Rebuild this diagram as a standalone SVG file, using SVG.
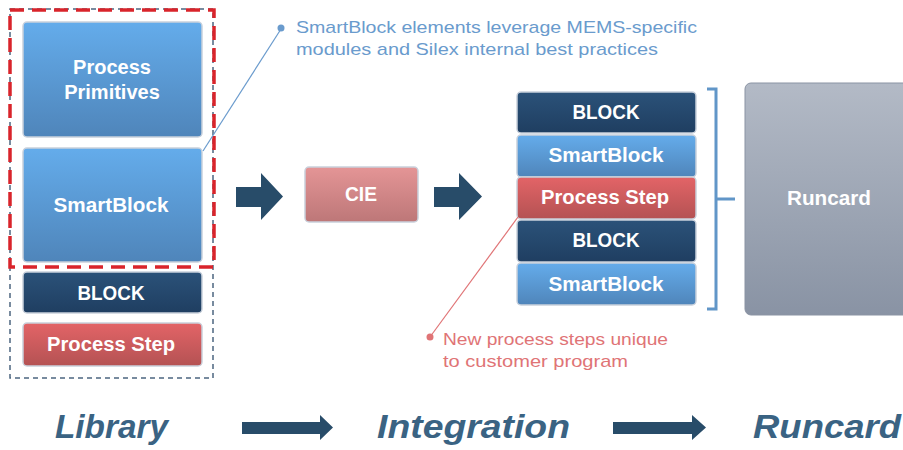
<svg xmlns="http://www.w3.org/2000/svg" width="903" height="450" viewBox="0 0 903 450">
<defs>
<linearGradient id="gLight" x1="0" y1="0" x2="0" y2="1"><stop offset="0" stop-color="#64aceb"/><stop offset="1" stop-color="#4f85ba"/></linearGradient>
<linearGradient id="gDark" x1="0" y1="0" x2="0" y2="1"><stop offset="0" stop-color="#2b5279"/><stop offset="1" stop-color="#1f3e61"/></linearGradient>
<linearGradient id="gRed" x1="0" y1="0" x2="0" y2="1"><stop offset="0" stop-color="#e36467"/><stop offset="1" stop-color="#b45253"/></linearGradient>
<linearGradient id="gPink" x1="0" y1="0" x2="0" y2="1"><stop offset="0" stop-color="#e49596"/><stop offset="1" stop-color="#bd7778"/></linearGradient>
<linearGradient id="gGray" x1="0" y1="0" x2="0" y2="1"><stop offset="0" stop-color="#b3bac6"/><stop offset="1" stop-color="#8993a4"/></linearGradient>
</defs>
<style>
.box{stroke:#c9d1dc;stroke-width:1.5}
.lbl{font-family:"Liberation Sans","DejaVu Sans",sans-serif;font-weight:bold;fill:#ffffff;text-anchor:middle}
.note{font-family:"Liberation Sans","DejaVu Sans",sans-serif;font-size:17px}
.big{font-family:"Liberation Sans","DejaVu Sans",sans-serif;font-weight:bold;font-style:italic;font-size:33px;fill:#3a6383}
.arrow{fill:#284c69}
</style>

<g id="library-frame">
<rect x="10" y="9" width="203" height="369" fill="none" stroke="#4c6680" stroke-width="1.5" stroke-dasharray="5,4"/>
<rect x="10" y="10" width="204" height="257" fill="none" stroke="#d9242b" stroke-width="3.5" stroke-dasharray="14,8"/>
</g>

<g id="lib-process-primitives">
<rect class="box" x="23" y="22" width="179" height="115" rx="4" fill="url(#gLight)"/>
<text class="lbl" x="112" y="74" font-size="20">Process</text>
<text class="lbl" x="112" y="99" font-size="20">Primitives</text>
</g>
<g id="lib-smartblock">
<rect class="box" x="23" y="148" width="179" height="114" rx="4" fill="url(#gLight)"/>
<text class="lbl" x="111" y="212" font-size="20" textLength="115" lengthAdjust="spacingAndGlyphs">SmartBlock</text>
</g>
<g id="lib-block">
<rect class="box" x="23" y="272" width="179" height="41" rx="4" fill="url(#gDark)"/>
<text class="lbl" x="111" y="300" font-size="20" textLength="67" lengthAdjust="spacingAndGlyphs">BLOCK</text>
</g>
<g id="lib-process-step">
<rect class="box" x="23" y="323" width="179" height="43" rx="4" fill="url(#gRed)"/>
<text class="lbl" x="111" y="351" font-size="20" textLength="128" lengthAdjust="spacingAndGlyphs">Process Step</text>
</g>

<g id="cie">
<rect class="box" x="305" y="167" width="113" height="55" rx="4" fill="url(#gPink)"/>
<text class="lbl" x="361" y="201" font-size="20" textLength="32" lengthAdjust="spacingAndGlyphs">CIE</text>
</g>

<g id="int-block-1">
<rect class="box" x="517" y="92" width="179" height="41" rx="4" fill="url(#gDark)"/>
<text class="lbl" x="606" y="119" font-size="20" textLength="67" lengthAdjust="spacingAndGlyphs">BLOCK</text>
</g>
<g id="int-smartblock-1">
<rect class="box" x="517" y="135" width="179" height="42" rx="4" fill="url(#gLight)"/>
<text class="lbl" x="606" y="162" font-size="20" textLength="115" lengthAdjust="spacingAndGlyphs">SmartBlock</text>
</g>
<g id="int-process-step">
<rect class="box" x="517" y="177" width="179" height="42" rx="4" fill="url(#gRed)"/>
<text class="lbl" x="605" y="204" font-size="20" textLength="128" lengthAdjust="spacingAndGlyphs">Process Step</text>
</g>
<g id="int-block-2">
<rect class="box" x="517" y="220" width="179" height="42" rx="4" fill="url(#gDark)"/>
<text class="lbl" x="606" y="247" font-size="20" textLength="67" lengthAdjust="spacingAndGlyphs">BLOCK</text>
</g>
<g id="int-smartblock-2">
<rect class="box" x="517" y="263" width="179" height="42" rx="4" fill="url(#gLight)"/>
<text class="lbl" x="606" y="291" font-size="20" textLength="115" lengthAdjust="spacingAndGlyphs">SmartBlock</text>
</g>

<g id="runcard">
<rect x="745" y="83" width="170" height="232" rx="6" fill="url(#gGray)" stroke="#8a93a3" stroke-width="1"/>
<text class="lbl" x="829" y="205" font-size="20" textLength="84" lengthAdjust="spacingAndGlyphs">Runcard</text>
</g>

<g id="connectors">
<path class="arrow" d="M236,187 H261 V173 L283,196.5 L261,220 V207 H236 Z"/>
<path class="arrow" d="M434,187 H459 V173 L482,196.5 L459,220 V207 H434 Z"/>
<path d="M707,89 H716 V309 H707 M716,199 H735" fill="none" stroke="#6196c8" stroke-width="3"/>
<line x1="203" y1="151" x2="281" y2="29" stroke="#6a9bcd" stroke-width="1.2"/>
<circle cx="281" cy="28" r="3.5" fill="#6a9bcd"/>
<line x1="518" y1="217" x2="430" y2="337" stroke="#e07476" stroke-width="1.2"/>
<circle cx="430" cy="337" r="3.5" fill="#e07476"/>
<path class="arrow" d="M242,422 H320 V415 L333,427.5 L320,440 V434 H242 Z"/>
<path class="arrow" d="M613,422 H692 V415 L706,427.5 L692,440 V434 H613 Z"/>
</g>

<g id="notes">
<text class="note" x="296" y="33" fill="#6a9bcd" textLength="401" lengthAdjust="spacingAndGlyphs">SmartBlock elements leverage MEMS-specific</text>
<text class="note" x="296" y="55" fill="#6a9bcd" textLength="362" lengthAdjust="spacingAndGlyphs">modules and Silex internal best practices</text>
<text class="note" x="443" y="345" fill="#e07476" textLength="225" lengthAdjust="spacingAndGlyphs">New process steps unique</text>
<text class="note" x="443" y="367" fill="#e07476" textLength="185" lengthAdjust="spacingAndGlyphs">to customer program</text>
</g>

<g id="stages">
<text class="big" x="55" y="438" textLength="113" lengthAdjust="spacingAndGlyphs">Library</text>
<text class="big" x="377" y="438" textLength="193" lengthAdjust="spacingAndGlyphs">Integration</text>
<text class="big" x="753" y="438" textLength="148" lengthAdjust="spacingAndGlyphs">Runcard</text>
</g>
</svg>
